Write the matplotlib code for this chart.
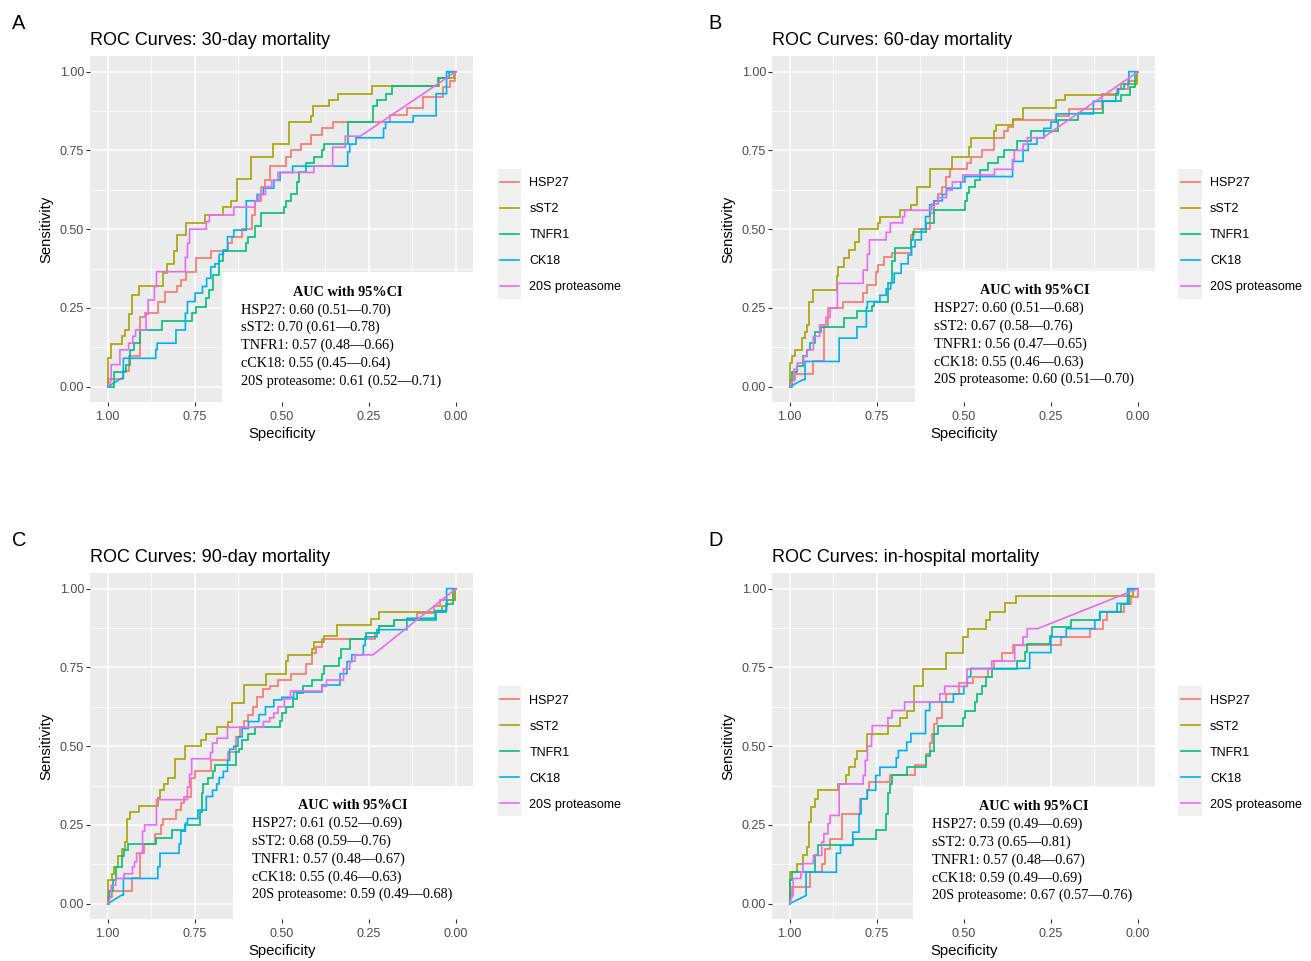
import matplotlib
matplotlib.use("Agg")
import matplotlib.pyplot as plt
from matplotlib.patches import Rectangle
from matplotlib import font_manager

# ---------------- data ----------------
TITLES = ["ROC Curves: 30-day mortality", "ROC Curves: 60-day mortality",
          "ROC Curves: 90-day mortality", "ROC Curves: in-hospital mortality"]
PANEL_LETTERS = ["A", "B", "C", "D"]
MARKERS = ["HSP27", "sST2", "TNFR1", "CK18", "20S proteasome"]
AUC_NAMES = ["HSP27", "sST2", "TNFR1", "cCK18", "20S proteasome"]
COLORS = ["#F8766D", "#A3A500", "#00BF7D", "#00B0F6", "#E76BF3"]

AUC_A = [0.60, 0.70, 0.57, 0.55, 0.61]
LO_A = [0.51, 0.61, 0.48, 0.45, 0.52]
HI_A = [0.70, 0.78, 0.66, 0.64, 0.71]
AUC_B = [0.60, 0.67, 0.56, 0.55, 0.60]
LO_B = [0.51, 0.58, 0.47, 0.46, 0.51]
HI_B = [0.68, 0.76, 0.65, 0.63, 0.70]
AUC_C = [0.61, 0.68, 0.57, 0.55, 0.59]
LO_C = [0.52, 0.59, 0.48, 0.46, 0.49]
HI_C = [0.69, 0.76, 0.67, 0.63, 0.68]
AUC_D = [0.59, 0.73, 0.57, 0.59, 0.67]
LO_D = [0.49, 0.65, 0.48, 0.49, 0.57]
HI_D = [0.69, 0.81, 0.67, 0.69, 0.76]

# ROC points (specificity, sensitivity); steps go across then up
A_HSP27 = [(1.0,0.0),(1.0,0.023),(0.955,0.049),(0.94,0.096),(0.907,0.22),(0.893,0.235),(0.856,0.27),
           (0.836,0.30),(0.80,0.32),(0.79,0.34),(0.776,0.365),(0.746,0.41),(0.704,0.43),(0.656,0.455),
           (0.644,0.475),(0.614,0.50),(0.586,0.545),(0.577,0.59),(0.559,0.635),(0.547,0.655),(0.535,0.70),
           (0.487,0.73),(0.475,0.75),(0.445,0.77),(0.415,0.80),(0.385,0.82),(0.352,0.84),(0.189,0.863),
           (0.141,0.884),(0.094,0.92),(0.036,0.95),(0.017,0.97),(0.003,1.0),(0.0,1.0)]
A_SST2 = [(1.0,0.0),(1.0,0.09),(0.99,0.136),(0.96,0.16),(0.95,0.18),(0.94,0.23),(0.93,0.29),(0.91,0.32),
          (0.84,0.36),(0.83,0.39),(0.81,0.43),(0.80,0.48),(0.775,0.52),(0.72,0.545),(0.67,0.57),(0.645,0.59),
          (0.63,0.66),(0.59,0.73),(0.525,0.77),(0.48,0.84),(0.415,0.86),(0.41,0.89),(0.365,0.91),(0.34,0.93),
          (0.24,0.955),(0.05,0.98),(0.005,1.0),(0.0,1.0)]
A_TNFR1 = [(1.0,0.0),(0.983,0.045),(0.947,0.07),(0.935,0.117),(0.925,0.14),(0.907,0.18),(0.844,0.207),
           (0.759,0.233),(0.747,0.254),(0.717,0.28),(0.708,0.307),(0.699,0.355),(0.68,0.40),(0.668,0.43),
           (0.602,0.455),(0.596,0.476),(0.577,0.51),(0.559,0.55),(0.493,0.57),(0.487,0.59),(0.475,0.61),
           (0.456,0.65),(0.45,0.68),(0.432,0.71),(0.408,0.73),(0.384,0.75),(0.378,0.77),(0.311,0.84),
           (0.238,0.89),(0.226,0.91),(0.202,0.93),(0.184,0.955),(0.051,0.98),(0.021,1.0),(0.0,1.0)]
A_CK18 = [(1.0,0.0),(0.96,0.027),(0.955,0.09),(0.862,0.117),(0.858,0.138),(0.804,0.18),(0.777,0.233),
          (0.771,0.27),(0.749,0.297),(0.728,0.318),(0.716,0.344),(0.704,0.38),(0.692,0.39),(0.68,0.42),
          (0.668,0.434),(0.656,0.476),(0.638,0.497),(0.602,0.59),(0.571,0.61),(0.553,0.63),(0.523,0.655),
          (0.505,0.68),(0.469,0.70),(0.311,0.745),(0.305,0.77),(0.287,0.79),(0.208,0.82),(0.202,0.84),
          (0.123,0.86),(0.057,0.93),(0.027,1.0),(0.0,1.0)]
A_20S = [(1.0,0.0),(0.99,0.02),(0.99,0.07),(0.965,0.117),(0.94,0.138),(0.928,0.16),(0.92,0.18),(0.89,0.23),
         (0.884,0.275),(0.866,0.318),(0.86,0.365),(0.777,0.41),(0.771,0.455),(0.765,0.50),(0.717,0.524),
         (0.708,0.545),(0.638,0.57),(0.577,0.59),(0.565,0.61),(0.547,0.635),(0.529,0.655),(0.511,0.68),
         (0.408,0.70),(0.354,0.76),(0.318,0.795),(0.275,0.795),(0.0,1.0)]

B_HSP27 = [(1.0,0.0),(1.0,0.022),(0.986,0.04),(0.934,0.06),(0.932,0.08),(0.902,0.19),(0.891,0.25),(0.847,0.27),
           (0.79,0.297),(0.777,0.323),(0.753,0.365),(0.747,0.386),(0.729,0.413),(0.706,0.423),(0.652,0.48),
           (0.644,0.50),(0.598,0.55),(0.586,0.59),(0.574,0.61),(0.562,0.635),(0.55,0.666),(0.539,0.69),
           (0.491,0.71),(0.479,0.73),(0.449,0.75),(0.414,0.79),(0.384,0.81),(0.372,0.825),(0.36,0.845),
           (0.235,0.86),(0.199,0.883),(0.104,0.93),(0.06,0.946),(0.03,0.97),(0.003,1.0),(0.0,1.0)]
B_SST2 = [(1.0,0.0),(1.0,0.075),(0.994,0.096),(0.986,0.117),(0.964,0.154),(0.956,0.175),(0.95,0.196),
          (0.944,0.27),(0.934,0.297),(0.932,0.308),(0.863,0.35),(0.861,0.38),(0.843,0.41),(0.831,0.434),
          (0.813,0.46),(0.801,0.50),(0.747,0.52),(0.741,0.54),(0.682,0.56),(0.652,0.577),(0.634,0.635),
          (0.598,0.69),(0.533,0.73),(0.485,0.76),(0.479,0.79),(0.414,0.81),(0.408,0.83),(0.36,0.85),
          (0.33,0.886),(0.235,0.91),(0.211,0.925),(0.056,0.946),(0.05,0.96),(0.002,1.0),(0.0,1.0)]
B_TNFR1 = [(1.0,0.0),(0.992,0.045),(0.98,0.065),(0.962,0.096),(0.95,0.117),(0.942,0.14),(0.926,0.175),
           (0.91,0.19),(0.843,0.217),(0.807,0.24),(0.765,0.255),(0.759,0.27),(0.717,0.33),(0.705,0.40),
           (0.699,0.44),(0.652,0.466),(0.646,0.49),(0.61,0.52),(0.586,0.56),(0.497,0.59),(0.491,0.615),
           (0.485,0.635),(0.467,0.655),(0.455,0.687),(0.431,0.71),(0.402,0.73),(0.384,0.75),(0.348,0.78),
           (0.307,0.81),(0.23,0.847),(0.172,0.869),(0.1,0.906),(0.05,0.927),(0.024,0.95),(0.01,1.0),(0.0,1.0)]
B_CK18 = [(1.0,0.0),(0.962,0.022),(0.956,0.08),(0.858,0.154),(0.807,0.19),(0.78,0.25),(0.777,0.27),
          (0.741,0.29),(0.723,0.31),(0.71,0.33),(0.70,0.36),(0.68,0.39),(0.66,0.418),(0.65,0.444),
          (0.64,0.466),(0.622,0.50),(0.61,0.54),(0.598,0.577),(0.586,0.59),(0.562,0.61),(0.55,0.63),
          (0.509,0.65),(0.497,0.667),(0.36,0.715),(0.33,0.75),(0.315,0.77),(0.29,0.79),(0.27,0.82),
          (0.25,0.84),(0.235,0.866),(0.128,0.906),(0.064,0.93),(0.056,0.946),(0.04,0.96),(0.026,1.0),(0.0,1.0)]
B_20S = [(1.0,0.0),(0.99,0.02),(0.988,0.055),(0.978,0.075),(0.96,0.096),(0.95,0.117),(0.932,0.16),
         (0.914,0.196),(0.896,0.22),(0.884,0.25),(0.863,0.328),(0.789,0.37),(0.777,0.42),(0.771,0.466),
         (0.723,0.49),(0.711,0.52),(0.676,0.54),(0.67,0.56),(0.592,0.58),(0.574,0.60),(0.55,0.624),
         (0.533,0.65),(0.503,0.672),(0.412,0.69),(0.36,0.72),(0.355,0.75),(0.33,0.77),(0.318,0.79),
         (0.273,0.79),(0.0,1.0)]

C_HSP27 = [(1.0,0.0),(1.0,0.02),(0.989,0.04),(0.931,0.08),(0.907,0.16),(0.895,0.19),(0.865,0.22),
           (0.847,0.25),(0.841,0.27),(0.805,0.297),(0.79,0.32),(0.78,0.34),(0.762,0.40),(0.75,0.42),
           (0.702,0.455),(0.656,0.48),(0.632,0.53),(0.62,0.56),(0.608,0.58),(0.596,0.60),(0.584,0.625),
           (0.572,0.655),(0.553,0.68),(0.535,0.69),(0.511,0.71),(0.475,0.73),(0.432,0.76),(0.414,0.795),
           (0.402,0.815),(0.384,0.84),(0.232,0.86),(0.22,0.88),(0.178,0.90),(0.111,0.923),(0.063,0.944),
           (0.045,0.965),(0.002,1.0),(0.0,1.0)]
C_SST2 = [(1.0,0.0),(1.0,0.076),(0.989,0.095),(0.983,0.117),(0.971,0.15),(0.959,0.175),(0.949,0.196),
          (0.944,0.27),(0.935,0.29),(0.91,0.31),(0.856,0.334),(0.85,0.36),(0.838,0.38),(0.826,0.40),
          (0.807,0.46),(0.777,0.50),(0.731,0.52),(0.717,0.54),(0.686,0.56),(0.656,0.578),(0.644,0.636),
          (0.61,0.695),(0.545,0.73),(0.487,0.77),(0.481,0.79),(0.414,0.81),(0.408,0.83),(0.378,0.85),
          (0.341,0.885),(0.245,0.903),(0.22,0.925),(0.039,0.944),(0.025,0.965),(0.002,1.0),(0.0,1.0)]
C_TNFR1 = [(1.0,0.0),(0.995,0.04),(0.985,0.075),(0.977,0.117),(0.959,0.15),(0.953,0.17),(0.941,0.19),
           (0.862,0.21),(0.814,0.233),(0.777,0.25),(0.735,0.29),(0.729,0.35),(0.725,0.38),(0.711,0.40),
           (0.699,0.42),(0.693,0.44),(0.632,0.48),(0.622,0.49),(0.614,0.52),(0.596,0.54),(0.577,0.56),
           (0.505,0.58),(0.499,0.605),(0.487,0.625),(0.469,0.65),(0.456,0.668),(0.438,0.69),(0.414,0.71),
           (0.384,0.73),(0.378,0.753),(0.335,0.78),(0.329,0.81),(0.305,0.84),(0.257,0.86),(0.22,0.88),
           (0.178,0.90),(0.057,0.925),(0.03,0.95),(0.01,1.0),(0.0,1.0)]
C_CK18 = [(1.0,0.0),(0.96,0.027),(0.955,0.08),(0.856,0.117),(0.85,0.16),(0.795,0.19),(0.79,0.23),
          (0.777,0.255),(0.771,0.27),(0.741,0.297),(0.717,0.34),(0.699,0.36),(0.687,0.38),(0.68,0.40),
          (0.668,0.42),(0.656,0.455),(0.65,0.49),(0.638,0.50),(0.626,0.53),(0.614,0.556),(0.596,0.578),
          (0.566,0.60),(0.547,0.625),(0.523,0.647),(0.50,0.655),(0.466,0.672),(0.385,0.694),(0.333,0.73),
          (0.313,0.768),(0.299,0.79),(0.266,0.82),(0.261,0.847),(0.227,0.87),(0.141,0.906),(0.06,0.93),
          (0.027,1.0),(0.0,1.0)]
C_20S = [(1.0,0.0),(0.993,0.02),(0.99,0.058),(0.977,0.08),(0.953,0.095),(0.929,0.117),(0.923,0.133),
         (0.917,0.16),(0.90,0.23),(0.894,0.25),(0.86,0.33),(0.771,0.37),(0.765,0.41),(0.759,0.46),
         (0.705,0.48),(0.699,0.51),(0.686,0.525),(0.656,0.56),(0.553,0.578),(0.535,0.59),(0.523,0.605),
         (0.511,0.625),(0.493,0.65),(0.475,0.675),(0.384,0.69),(0.372,0.71),(0.323,0.745),(0.305,0.77),
         (0.29,0.79),(0.238,0.79),(0.0,1.0)]

D_HSP27 = [(1.0,0.0),(1.0,0.026),(0.992,0.053),(0.942,0.10),(0.906,0.127),(0.899,0.175),(0.885,0.206),
           (0.851,0.285),(0.799,0.333),(0.777,0.36),(0.771,0.385),(0.712,0.41),(0.64,0.44),(0.61,0.475),
           (0.598,0.51),(0.592,0.54),(0.586,0.57),(0.577,0.59),(0.562,0.64),(0.55,0.666),(0.515,0.70),
           (0.473,0.72),(0.431,0.745),(0.414,0.77),(0.39,0.795),(0.36,0.82),(0.22,0.847),(0.138,0.873),
           (0.10,0.90),(0.09,0.927),(0.04,0.95),(0.02,0.975),(0.0,0.975),(0.0,1.0)]
D_SST2 = [(1.0,0.0),(1.0,0.10),(0.98,0.127),(0.962,0.153),(0.95,0.18),(0.944,0.26),(0.938,0.307),
          (0.928,0.333),(0.92,0.36),(0.861,0.38),(0.837,0.41),(0.831,0.433),(0.813,0.46),(0.807,0.486),
          (0.777,0.54),(0.718,0.565),(0.682,0.59),(0.664,0.613),(0.644,0.69),(0.616,0.745),(0.551,0.795),
          (0.503,0.845),(0.489,0.872),(0.436,0.90),(0.426,0.927),(0.383,0.953),(0.349,0.977),(0.014,1.0),
          (0.0,1.0)]
D_TNFR1 = [(1.0,0.0),(1.0,0.074),(0.992,0.10),(0.926,0.153),(0.92,0.185),(0.819,0.206),(0.753,0.233),
           (0.723,0.285),(0.717,0.35),(0.711,0.38),(0.705,0.407),(0.664,0.435),(0.61,0.47),(0.598,0.486),
           (0.586,0.54),(0.574,0.565),(0.503,0.59),(0.497,0.613),(0.467,0.64),(0.461,0.666),(0.449,0.69),
           (0.437,0.72),(0.42,0.745),(0.348,0.77),(0.324,0.80),(0.318,0.825),(0.253,0.85),(0.247,0.877),
           (0.193,0.90),(0.11,0.925),(0.05,0.95),(0.026,1.0),(0.0,1.0)]
D_CK18 = [(1.0,0.0),(0.953,0.026),(0.953,0.10),(0.866,0.16),(0.854,0.185),(0.819,0.227),(0.801,0.285),
          (0.795,0.333),(0.777,0.36),(0.753,0.407),(0.741,0.433),(0.694,0.463),(0.688,0.486),(0.664,0.513),
          (0.652,0.54),(0.61,0.613),(0.598,0.64),(0.53,0.666),(0.50,0.69),(0.49,0.72),(0.48,0.747),
          (0.311,0.797),(0.25,0.847),(0.206,0.873),(0.124,0.90),(0.11,0.927),(0.06,0.953),(0.03,1.0),(0.0,1.0)]
D_20S = [(1.0,0.0),(0.992,0.026),(0.99,0.08),(0.968,0.10),(0.962,0.127),(0.932,0.153),(0.908,0.195),
         (0.902,0.222),(0.89,0.254),(0.884,0.28),(0.858,0.38),(0.789,0.407),(0.783,0.455),(0.777,0.50),
         (0.765,0.534),(0.763,0.565),(0.718,0.59),(0.706,0.613),(0.67,0.64),(0.569,0.666),(0.555,0.69),
         (0.491,0.745),(0.42,0.77),(0.354,0.82),(0.33,0.847),(0.318,0.873),(0.288,0.873),(0.0,1.0)]

# indices of points reached by a straight (tied) segment
TIES = {"CK18": [1], "20S proteasome": [1, -1]}

CURVES = [[A_HSP27, A_SST2, A_TNFR1, A_CK18, A_20S],
          [B_HSP27, B_SST2, B_TNFR1, B_CK18, B_20S],
          [C_HSP27, C_SST2, C_TNFR1, C_CK18, C_20S],
          [D_HSP27, D_SST2, D_TNFR1, D_CK18, D_20S]]
AUCS = [(AUC_A, LO_A, HI_A), (AUC_B, LO_B, HI_B), (AUC_C, LO_C, HI_C), (AUC_D, LO_D, HI_D)]

# ---------------- layout (pixels) ----------------
W, H = 1311, 961
PW, PH = 383.1, 346.5
PANEL_LT = [(90.3, 55.9), (772.3, 55.9), (90.3, 572.9), (772.3, 572.9)]
BOX_LT = [(221.7, 272.0), (914.5, 270.7), (232.6, 785.7), (912.8, 786.7)]
LEG_XY = [(499.8, 181.7), (1180.5, 181.7), (499.8, 699.3), (1180.5, 699.3)]
LETTER_XY = [(11.5, 29.3), (708.5, 29.3), (12.0, 546.0), (708.5, 546.0)]
ROW_PITCH = 26.0

names = {f.name for f in font_manager.fontManager.ttflist}
NARROW = "Liberation Sans Narrow" in names
SANS = "Liberation Sans Narrow" if NARROW else "Liberation Sans"
k = 1.0 if NARROW else 0.85
plt.rcParams["font.family"] = [SANS, "DejaVu Sans"]
SERIF = ["Liberation Serif", "DejaVu Serif"]

TICK_FS = 10.6 * k
AXLAB_FS = 12.6 * k
LEG_FS = 10.6 * k
TITLE_FS = 15.3 * k


def stairs(pts, ties):
    n = len(pts)
    ties = {t % n for t in ties}
    xs, ys = [pts[0][0]], [pts[0][1]]
    for i in range(1, n):
        x, y = pts[i]
        if i not in ties:
            xs.append(x)
            ys.append(pts[i - 1][1])
        xs.append(x)
        ys.append(y)
    return xs, ys


def fx(x):
    return x / W


def fy(y):
    return 1 - y / H


fig = plt.figure(figsize=(W / 100, H / 100), dpi=100)
legends = []

for p in range(4):
    pl, pt = PANEL_LT[p]
    ax = fig.add_axes([fx(pl), fy(pt + PH), PW / W, PH / H])
    ax.set_facecolor("#EBEBEB")
    for s in ax.spines.values():
        s.set_visible(False)
    ax.set_xlim(1.05, -0.05)
    ax.set_ylim(-0.05, 1.05)
    ticks = [1.0, 0.75, 0.5, 0.25, 0.0]
    labs = ["1.00", "0.75", "0.50", "0.25", "0.00"]
    ax.set_xticks(ticks, labs)
    ax.set_yticks(ticks, labs)
    minor = [0.875, 0.625, 0.375, 0.125]
    ax.set_xticks(minor, minor=True)
    ax.set_yticks(minor, minor=True)
    ax.tick_params(which="minor", length=0)
    ax.tick_params(which="major", length=2.75, width=0.8, color="#333333",
                   labelcolor="#4D4D4D", labelsize=TICK_FS)
    ax.tick_params(axis="x", which="major", pad=3.2)
    ax.tick_params(axis="y", which="major", pad=1.8)
    ax.grid(which="major", color="white", lw=1.1)
    ax.grid(which="minor", color="white", lw=0.55)
    ax.set_axisbelow(True)

    handles = []
    for m, pts in enumerate(CURVES[p]):
        xs, ys = stairs(pts, TIES.get(MARKERS[m], []))
        ln, = ax.plot(xs, ys, color=COLORS[m], lw=1.2, zorder=3, label=MARKERS[m],
                      solid_joinstyle="miter")
        handles.append(ln)

    ax.set_xlabel("Specificity", fontsize=AXLAB_FS, labelpad=3.0)
    ax.set_ylabel("Sensitivity", fontsize=AXLAB_FS, labelpad=4.5)
    ax.set_title(TITLES[p], loc="left", fontsize=TITLE_FS, pad=7.8)

    # AUC annotation box
    bl, bt = BOX_LT[p]
    ax.add_patch(Rectangle((fx(bl), fy(pt + PH)), (pl + PW - bl) / W, (pt + PH - bt) / H,
                           transform=fig.transFigure, facecolor="white", edgecolor="none",
                           zorder=4))
    ax.text(fx((bl + pl + PW) / 2), fy(bt + 20), "AUC with 95%CI", transform=fig.transFigure,
            ha="center", va="center", fontsize=10.3, fontweight="bold", family=SERIF, zorder=5)
    auc, lo, hi = AUCS[p]
    for i in range(5):
        txt = f"{AUC_NAMES[i]}: {auc[i]:.2f} ({lo[i]:.2f}\u2014{hi[i]:.2f})"
        ax.text(fx(bl + 19), fy(bt + 38 + i * 17.7), txt, transform=fig.transFigure,
                ha="left", va="center", fontsize=10.3, family=SERIF, zorder=5)

    lx, ly = LEG_XY[p]
    leg = ax.legend(handles=handles, loc="upper left", bbox_to_anchor=(fx(lx), fy(ly - 7)),
                    bbox_transform=fig.transFigure, frameon=False, fontsize=LEG_FS,
                    handlelength=1.52, handletextpad=0.84, labelspacing=0.95,
                    borderpad=0, borderaxespad=0)
    legends.append((leg, lx, ly, ax))

    x0, y0 = LETTER_XY[p]
    fig.text(fx(x0), fy(y0), PANEL_LETTERS[p], fontsize=14.4, family=["Liberation Sans", "DejaVu Sans"],
             ha="left", va="baseline")

# calibrate legend row spacing and position
fs_px = LEG_FS * 100 / 72
for _ in range(3):
    fig.canvas.draw()
    r = fig.canvas.get_renderer()
    for j, (leg, lx, ly, ax) in enumerate(legends):
        lines = leg.get_lines()
        b0 = lines[0].get_window_extent(r)
        b4 = lines[-1].get_window_extent(r)
        pitch = ((b0.y0 + b0.y1) / 2 - (b4.y0 + b4.y1) / 2) / 4
        ls = leg.labelspacing + (ROW_PITCH - pitch) / fs_px
        dx = lx - b0.x0
        dy = (H - ly) - (b0.y0 + b0.y1) / 2
        anc = leg.get_bbox_to_anchor()
        ax_x = anc.x0 / W + dx / W
        ax_y = anc.y0 / H + dy / H
        new = ax.legend(handles=leg.legend_handles, loc="upper left", bbox_to_anchor=(ax_x, ax_y),
                        bbox_transform=fig.transFigure, frameon=False, fontsize=LEG_FS,
                        handlelength=1.52, handletextpad=0.84, labelspacing=ls,
                        borderpad=0, borderaxespad=0)
        legends[j] = (new, lx, ly, ax)

fig.canvas.draw()
r = fig.canvas.get_renderer()
for leg, lx, ly, ax in legends:
    lines = leg.get_lines()
    bbs = [l.get_window_extent(r) for l in lines]
    xmin = min(b.x0 for b in bbs) - 2.2
    xmax = max(b.x1 for b in bbs) + 2.2
    ytop = (bbs[0].y0 + bbs[0].y1) / 2 + ROW_PITCH / 2
    ybot = (bbs[-1].y0 + bbs[-1].y1) / 2 - ROW_PITCH / 2
    fig.add_artist(Rectangle((xmin / W, ybot / H), (xmax - xmin) / W, (ytop - ybot) / H,
                             transform=fig.transFigure, facecolor="#F0F0F0", edgecolor="none",
                             zorder=-1))

fig.savefig("out.png", dpi=100)
